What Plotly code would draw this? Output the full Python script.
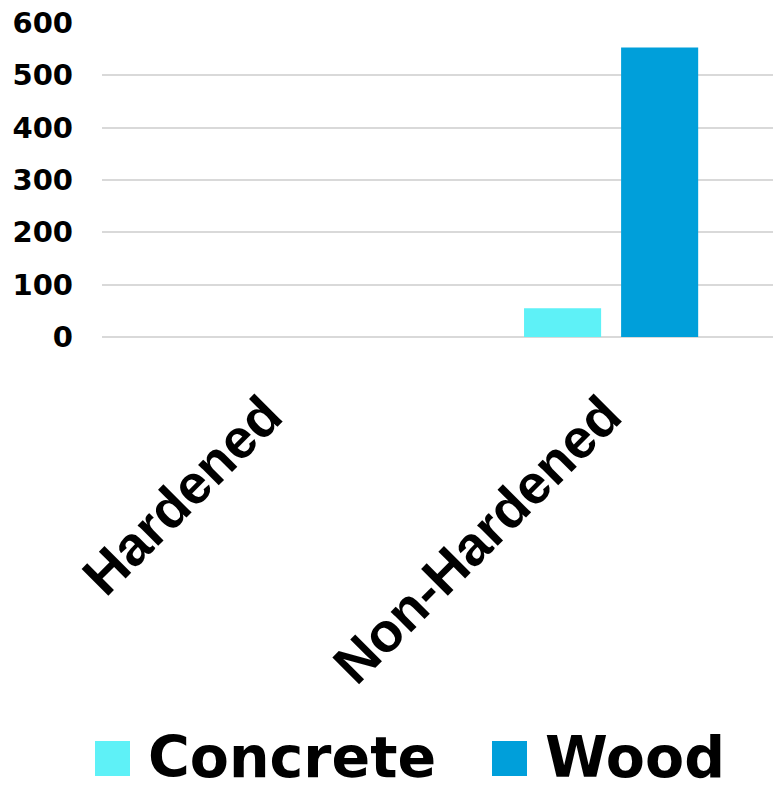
import plotly.graph_objects as go

categories = ["Hardened", "Non-Hardened"]
concrete = [0, 55]
wood = [0, 553]
series_names = ["Concrete", "Wood"]
y_ticks = [0, 100, 200, 300, 400, 500, 600]

COL_CONCRETE = "#5EF1F7"
COL_WOOD = "#009FDA"

W, H = 773, 785
ML, MR, MT, MB = 102, 0, 23, 448
PW = W - ML - MR
PH = H - MT - MB


def px_x(p):
    return (p - ML) / PW


def px_y(p):
    return (H - MB - p) / PH


fig = go.Figure()
fig.add_trace(go.Bar(name=series_names[0], x=categories, y=concrete,
                     marker=dict(color=COL_CONCRETE, line=dict(width=0)), showlegend=False))
fig.add_trace(go.Bar(name=series_names[1], x=categories, y=wood,
                     marker=dict(color=COL_WOOD, line=dict(width=0)), showlegend=False))

# manual legend (large square symbols)
legend_items = [(series_names[0], COL_CONCRETE, 95, 148), (series_names[1], COL_WOOD, 492, 545)]
shapes = []
annotations = []
for name, col, sx, tx in legend_items:
    shapes.append(dict(type="rect", xref="paper", yref="paper",
                       x0=px_x(sx), x1=px_x(sx + 35), y0=px_y(776), y1=px_y(741),
                       fillcolor=col, line=dict(width=0)))
    annotations.append(dict(text=name, xref="paper", yref="paper",
                            x=px_x(tx - 2), y=px_y(757), xanchor="left", yanchor="middle",
                            showarrow=False,
                            font=dict(family="DejaVu Sans", size=57, color="#000000", weight="bold")))

fig.update_layout(
    width=W, height=H,
    margin=dict(l=ML, r=MR, t=MT, b=MB, autoexpand=False),
    paper_bgcolor="white", plot_bgcolor="white",
    barmode="group", bargap=0.428, bargroupgap=0.206,
    shapes=shapes, annotations=annotations,
    showlegend=False,
)
fig.update_xaxes(
    range=[-0.5, 1.477], tickangle=-45, automargin=False,
    tickfont=dict(family="Liberation Sans", size=55, color="#000000", weight="bold"),
    showgrid=False, showline=False, zeroline=False, ticks="",
    ticklabelstandoff=34, ticklabelshift=-6,
)
fig.update_yaxes(
    range=[0, 600], tickvals=y_ticks, automargin=False,
    tickfont=dict(family="DejaVu Sans", size=29, color="#000000", weight="bold"),
    showgrid=True, gridcolor="#D9D9D9", gridwidth=2,
    zeroline=True, zerolinecolor="#D9D9D9", zerolinewidth=2,
    showline=False, ticks="", ticklabelstandoff=28,
)

fig.write_html("out.html", config={"displayModeBar": False},
               post_script="document.body.style.margin='0';document.body.style.overflow='hidden';")
